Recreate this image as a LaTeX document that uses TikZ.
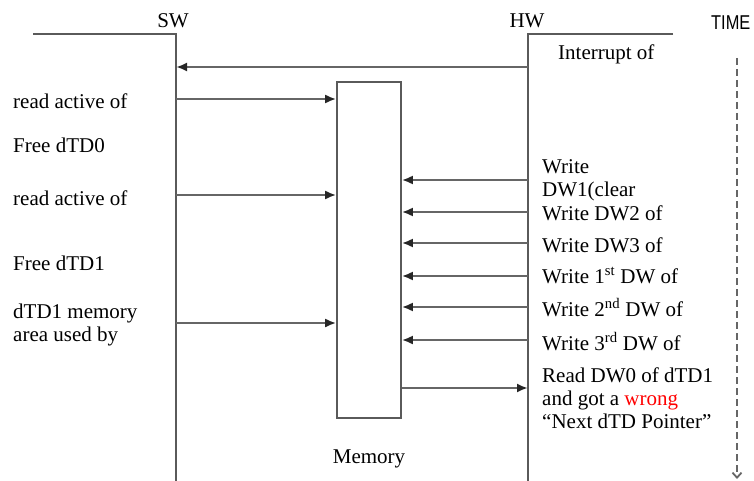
\documentclass[tikz,border=0pt]{standalone}
\usepackage{fontspec}
\setmainfont{Liberation Serif}
\newfontfamily\timefont[FakeStretch=0.82]{Liberation Sans}
\usepackage{tikz}
\usetikzlibrary{ positioning, arrows.meta, calc }
\definecolor{lane}{HTML}{5A5A5A}
\definecolor{msg}{HTML}{666666}

\begin{document}
\begin{tikzpicture}[
  x=1pt, y=-1pt,
  lbl/.style={anchor=base west, inner sep=0pt, align=left,
              font=\fontsize{21}{23}\selectfont},
  lanes/.style={lane, line width=1.6pt},
  ar/.style={-{Latex[length=11pt,width=9pt,color=black!85]}, msg, line width=2.2pt},
  timeline/.style={dash pattern=on 7pt off 4pt, msg, line width=1.8pt,
                   -{Straight Barb[length=5pt,width=9pt]}},
]
  \useasboundingbox (0,0) rectangle (754,481);

  % life lines
  \coordinate (swtop) at (176,34);
  \coordinate (hwtop) at (528,34);
  \draw[lanes] (33,34) -- (swtop) -- (176,481);
  \draw[lanes] (673,34) -- (hwtop) -- (528,481);
  \node[lbl, anchor=base] (sw) at (173,28) {SW};
  \node[lbl, anchor=base] (hw) at (527,28) {HW};
  \node[anchor=base west, inner sep=0pt,
        font=\timefont\fontsize{20}{24}\selectfont] (time) at (711,30) {TIME};
  \coordinate (t0) at (737,58);
  \coordinate (t1) at (737,479);
  \draw[timeline] (t0) -- (t1);

  \node[draw=lane, line width=1.6pt, minimum width=64pt,
        minimum height=336pt, inner sep=0pt] (mem) at (369,250) {};
  \node[lbl, anchor=base] (memlbl) at (369,463) {Memory};

  % interrupt
  \coordinate (irq) at (528,67);
  \draw[ar] (irq) -- (irq -| swtop);
  \node[lbl] (irqlbl) at (558,60) {Interrupt of};

  % SW side
  \node[lbl] (rd0) at (13,109) {read active of};
  \node[lbl] (free0) at (13,153) {Free dTD0};
  \node[lbl] (rd1) at (13,205) {read active of};
  \node[lbl] (free1) at (13,270) {Free dTD1};
  \node[lbl] (reuse) at (13,341) {dTD1 memory\\area used by};
  \foreach \y [count=\i] in {99,195,323} {
    \coordinate (sw\i) at (176,\y);
    \draw[ar] (sw\i) -- (sw\i -| mem.west);
  }

  % HW side
  \foreach \y [count=\i] in {180,212,243,276,307,340} {
    \coordinate (hw\i) at (528,\y);
    \draw[ar] (hw\i) -- (hw\i -| mem.east);
  }
  \coordinate (rdw0) at (528,388);
  \draw[ar] (rdw0 -| mem.east) -- (rdw0);

  \node[lbl] (wdw1) at (542,196) {Write\\DW1(clear};
  \node[lbl] (wdw2) at (542,220) {Write DW2 of};
  \node[lbl] (wdw3) at (542,252) {Write DW3 of};
  \node[lbl] (wfst) at (542,283) {Write 1\textsuperscript{st} DW of};
  \node[lbl] (wsnd) at (542,316) {Write 2\textsuperscript{nd} DW of};
  \node[lbl] (wtrd) at (542,350) {Write 3\textsuperscript{rd} DW of};
  \node[lbl] (rdlbl) at (542,428)
    {Read DW0 of dTD1\\and got a \textcolor{red}{wrong}\\“Next dTD Pointer”};
\end{tikzpicture}
\end{document}
